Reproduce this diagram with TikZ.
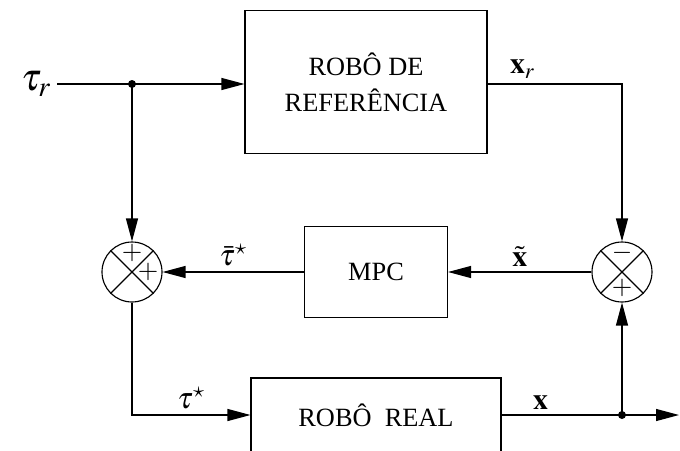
\documentclass[tikz,border=0pt]{standalone}
\usepackage{mathptmx}
\usepackage{fontspec}
\setmainfont{Liberation Serif}
\usetikzlibrary{arrows.meta}

\begin{document}
\begin{tikzpicture}[
  x=0.02cm, y=-0.02cm,
  line width=0.65pt,
  font=\fontsize{15}{20.5}\selectfont,
  blk/.style={draw, rectangle, align=center, inner sep=0pt},
  sum/.style={draw, circle, minimum size=1.2cm, inner sep=0pt},
  arr/.style={-{Triangle[length=0.46cm,width=0.24cm]}},
  lbl/.style={font=\fontsize{17}{19}\selectfont, above, inner sep=3pt},
  sgn/.style={font=\fontsize{15}{17}\selectfont, inner sep=0pt},
]

  \clip (0,0) rectangle (680,450);

  % --- Blocks ---
  \node[blk, minimum width=4.84cm, minimum height=2.86cm] (ref) at (366,82)
    {ROBÔ DE\\REFERÊNCIA};
  \node[blk, minimum width=2.86cm, minimum height=1.82cm] (mpc) at (376,272) {MPC};
  \node[blk, minimum width=5.0cm, minimum height=1.48cm] (real) at (376,415)
    {ROBÔ\ \ REAL};

  % --- Summing junctions ---
  \node[sum] (sL) at (132,272) {};
  \node[sum] (sR) at (622,272) {};
  \foreach \s in {sL,sR}
    \draw (\s.north west) -- (\s.south east) (\s.north east) -- (\s.south west);
  \node[sgn] (sLa) at ([yshift=0.38cm]sL.center) {$+$};
  \node[sgn] (sLb) at ([xshift=0.32cm]sL.center) {$+$};
  \node[sgn] (sRa) at ([yshift=0.38cm]sR.center) {$-$};
  \node[sgn] (sRb) at ([yshift=-0.32cm]sR.center) {$+$};

  % --- Input, branch points, output ---
  \coordinate (in) at (57,84);
  \coordinate (jA) at (sL |- in);
  \coordinate (jB) at (sR |- real);
  \coordinate (out) at (679,415);
  \node[left, font=\fontsize{22}{24}\selectfont, inner sep=3pt] (tr) at (in) {$\tau_r$};

  % --- Connections ---
  \draw[arr] (in) -- (in -| ref.west);
  \draw[arr] (ref.east |- in) -| (sR.north)
    node[lbl, pos=0.13] (lxr) {$\mathbf{x}_r$};
  \draw[arr] (jA) -- (sL.north);
  \draw[arr] (mpc.west) -- (sL.east)
    node[lbl, midway] (ltb) {$\bar{\tau}^{\star}$};
  \draw[arr] (sR.west) -- (mpc.east)
    node[lbl, midway] (lxt) {$\tilde{\mathbf{x}}$};
  \draw[arr] (sL.south) |- (real.west)
    node[lbl, pos=0.75] (lts) {$\tau^{\star}$};
  \draw[arr] (real.east) -- (out)
    node[lbl, pos=0.22] (lx) {$\mathbf{x}$};
  \draw[arr] (jB) -- (sR.south);

  \fill (jA) circle (0.08cm);
  \fill (jB) circle (0.08cm);

\end{tikzpicture}
\end{document}
